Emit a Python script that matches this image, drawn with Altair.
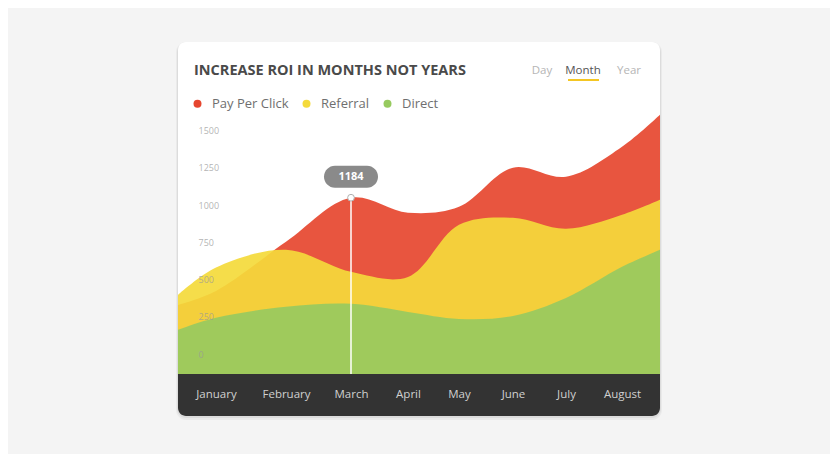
import altair as alt
import pandas as pd

# ---------------- data ----------------
months = ["January", "February", "March", "April", "May", "June", "July", "August"]
series = ["Pay Per Click", "Referral", "Direct"]
colors = ["#E6462F", "#F4DA3B", "#97CA5F"]

pay_per_click = [558, 888, 1184, 1083, 1123, 1386, 1325, 1527]
referral = [715, 834, 686, 652, 1002, 1049, 975, 1069]
direct = [377, 451, 471, 417, 370, 390, 511, 720]
# values where each area meets the left / right edge of the card
edge_left = [464, 531, 296]
edge_right = [1742, 1170, 834]

y_ticks = [0, 250, 500, 750, 1000, 1250, 1500]
title_text = "INCREASE ROI IN MONTHS NOT YEARS"
tabs = ["Day", "Month", "Year"]
active_tab = "Month"
highlight_month = "March"

# ---------------- tables ----------------
values_by_series = [pay_per_click, referral, direct]
rows = []
for si, s in enumerate(series):
    vals = [edge_left[si]] + values_by_series[si] + [edge_right[si]]
    for slot, v in enumerate(vals):
        rows.append({"series": s, "slot": slot, "value": v})
df = pd.DataFrame(rows)

hi = months.index(highlight_month)
tip_df = pd.DataFrame({"slot": [hi + 1], "value": [pay_per_click[hi]]})
one = pd.DataFrame({"k": [0]})

W, H = 482, 268
BAR = 42
TOP = -64

x_scale = alt.Scale(domain=list(range(10)),
                    range=[0, 38, 108, 173, 230, 281, 335, 388, 444, 482],
                    nice=False, zero=False)
y_scale = alt.Scale(domain=[0, 1800], nice=False, zero=True)
c_scale = alt.Scale(domain=series, range=colors)

label_expr = "[" + ",".join("'%s'" % m for m in months) + "][datum.value - 1]"

x_axis = alt.Axis(values=list(range(1, 9)), labelExpr=label_expr, ticks=False,
                  domain=False, grid=False, labelPadding=20, labelBaseline="middle",
                  labelFontSize=11.5, labelColor="#d0d0d0", labelFont="Open Sans",
                  title=None, zindex=1, labelFlush=False, labelOverlap=False)
y_axis = alt.Axis(values=y_ticks, ticks=False, tickSize=0, domain=False, grid=False,
                  labelAlign="left", labelPadding=-20, labelOffset=-20,
                  labelBaseline="middle", labelFontSize=9, labelColor="#999999",
                  labelOpacity=0.75, labelFont="Open Sans", title=None, zindex=1,
                  format="d")
legend = alt.Legend(orient="none", legendX=13, legendY=-9, direction="horizontal",
                    title=None, symbolType="circle", symbolSize=64, symbolOpacity=1,
                    symbolStrokeWidth=0, labelFont="Open Sans", labelFontSize=13,
                    labelColor="#6f6f6f", labelOffset=8, columnPadding=11,
                    labelLimit=200)

X = alt.X("slot:Q", scale=x_scale, axis=x_axis)
Y = alt.Y("value:Q", scale=y_scale, axis=y_axis)

base_dec = alt.Chart(one)

shadow2 = base_dec.mark_rect(cornerRadius=10, color="#000000", opacity=0.04).encode(
    x=alt.value(-2), x2=alt.value(W + 2), y=alt.value(TOP), y2=alt.value(H + BAR + 4))
shadow1 = base_dec.mark_rect(cornerRadius=9, color="#000000", opacity=0.06).encode(
    x=alt.value(-1), x2=alt.value(W + 1), y=alt.value(TOP + 1), y2=alt.value(H + BAR + 2))
card = base_dec.mark_rect(cornerRadius=8, color="white").encode(
    x=alt.value(0), x2=alt.value(W), y=alt.value(TOP), y2=alt.value(H + BAR))
bar = base_dec.mark_rect(color="#333333", cornerRadiusBottomLeft=8,
                         cornerRadiusBottomRight=8).encode(
    x=alt.value(0), x2=alt.value(W), y=alt.value(H), y2=alt.value(H + BAR))

areas = []
for i, s in enumerate(series):
    areas.append(
        alt.Chart(df).transform_filter(alt.datum.series == s)
        .mark_area(interpolate="catmull-rom", opacity=0.92)
        .encode(
            x=X, y=Y,
            color=alt.Color("series:N", scale=c_scale, legend=legend),
        )
    )

tip_base = alt.Chart(tip_df)
rule = tip_base.mark_rule(color="white", strokeWidth=1.5).encode(
    x=X, y=Y, y2=alt.datum(0))
dot = tip_base.mark_point(shape="circle", filled=True, fill="white", stroke="#b0b0b0",
                          strokeWidth=1, size=45, opacity=1).encode(x=X, y=Y)
bubble = tip_base.mark_rect(cornerRadius=11, color="#8a8a8a", xOffset=-27, x2Offset=27,
                            yOffset=-32, y2Offset=-10).encode(
    x=X, x2="slot", y=Y, y2="value")
bubble_text = tip_base.mark_text(color="white", fontWeight="bold", fontSize=11,
                                 font="Open Sans", dy=-21, baseline="middle").encode(
    x=X, y=Y, text=alt.Text("value:Q", format="d"))

title = base_dec.mark_text(align="left", baseline="middle", fontSize=14.5, fontWeight="bold",
                           color="#4a4a4a", font="Open Sans").encode(
    x=alt.value(16), y=alt.value(-35), text=alt.value(title_text))

tab_x = [364, 405, 451]
tab_layers = []
for t, tx in zip(tabs, tab_x):
    tab_layers.append(base_dec.mark_text(align="center", baseline="middle", fontSize=11.5,
                                         color="#555555" if t == active_tab else "#b5b5b5",
                                         font="Open Sans").encode(
        x=alt.value(tx), y=alt.value(-35), text=alt.value(t)))
underline = base_dec.mark_rule(color="#F4C623", strokeWidth=2).encode(
    x=alt.value(390), x2=alt.value(421), y=alt.value(-26))

chart = alt.layer(
    shadow2, shadow1, card, bar, *areas, rule, bubble, bubble_text, dot, title,
    *tab_layers, underline
).properties(
    width=W, height=H,
    padding={"left": 170, "top": 98, "right": 170, "bottom": 80},
    autosize=alt.AutoSizeParams(type="none"),
    background="#f4f4f4",
).configure_view(stroke=None)

chart.save("out.html", embed_options={"renderer": "svg", "actions": False})
